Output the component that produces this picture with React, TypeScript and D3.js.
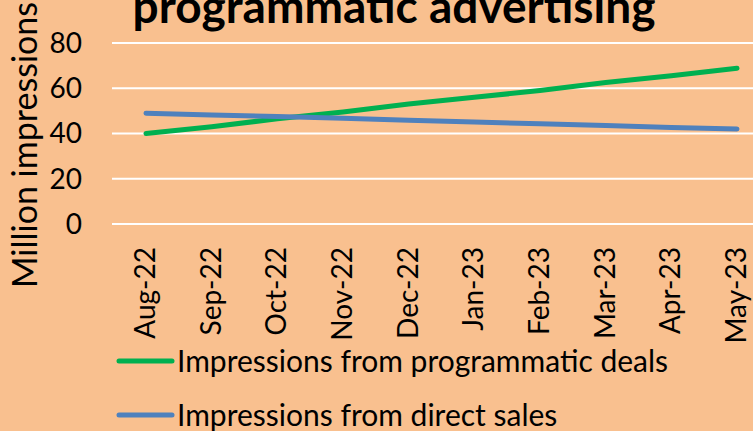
import React, { useEffect, useRef } from 'react';
import * as d3 from 'd3';

const months = ['Aug-22', 'Sep-22', 'Oct-22', 'Nov-22', 'Dec-22', 'Jan-23', 'Feb-23', 'Mar-23', 'Apr-23', 'May-23'];
const programmatic = [40, 43, 46.5, 49.5, 53, 56, 59, 62.5, 65.5, 68.8];
const directSales = [49, 48.2, 47.5, 46.7, 45.9, 45.1, 44.3, 43.5, 42.7, 42];
const yTicks = [0, 20, 40, 60, 80];
const seriesNames = ['Impressions from programmatic deals', 'Impressions from direct sales'];

const W = 753;
const H = 431;
const FONT = 'Lato, "Open Sans", sans-serif';

export default function App() {
  const svgRef = useRef<SVGSVGElement>(null);

  useEffect(() => {
    if (!svgRef.current) return;
    const svg = d3.select(svgRef.current);
    svg.selectAll('*').remove();

    svg.append('rect').attr('width', W).attr('height', H).attr('fill', '#F9C08F');

    const x = d3.scalePoint<string>().domain(months).range([146, 737]);
    const y = d3.scaleLinear().domain([0, 80]).range([224, 43]);

    // gridlines
    svg.append('g')
      .selectAll('line')
      .data(yTicks)
      .join('line')
      .attr('x1', 112)
      .attr('x2', W)
      .attr('y1', d => y(d))
      .attr('y2', d => y(d))
      .attr('stroke', '#fff')
      .attr('stroke-width', 2);

    // y tick labels
    svg.append('g')
      .style('font', `28px ${FONT}`)
      .attr('text-anchor', 'end')
      .selectAll('text')
      .data(yTicks)
      .join('text')
      .attr('x', 82)
      .attr('y', d => y(d))
      .attr('dy', '0.35em')
      .text(d => d);

    // x tick labels
    svg.append('g')
      .style('font', `28px ${FONT}`)
      .attr('text-anchor', 'end')
      .selectAll('text')
      .data(months)
      .join('text')
      .attr('transform', d => `translate(${x(d)},247) rotate(-90)`)
      .attr('dy', '0.32em')
      .text(d => d);

    // lines
    const line = d3.line<number>()
      .x((_, i) => x(months[i])!)
      .y(d => y(d));

    const series = [
      { values: programmatic, color: '#00B050' },
      { values: directSales, color: '#4F81BD' },
    ];

    svg.append('g')
      .selectAll('path')
      .data(series)
      .join('path')
      .attr('d', d => line(d.values))
      .attr('fill', 'none')
      .attr('stroke', d => d.color)
      .attr('stroke-width', 5)
      .attr('stroke-linecap', 'round');

    // legend
    const legend = svg.append('g')
      .selectAll('g')
      .data(series)
      .join('g')
      .attr('transform', (_, i) => `translate(0,${i === 0 ? 361 : 415})`);
    legend.append('line')
      .attr('x1', 119).attr('x2', 172)
      .attr('stroke', d => d.color)
      .attr('stroke-width', 5)
      .attr('stroke-linecap', 'round');
    legend.append('text')
      .attr('x', 177)
      .attr('dy', '0.35em')
      .style('font', `30px ${FONT}`)
      .text((_, i) => seriesNames[i]);

    // axis title
    svg.append('text')
      .attr('transform', 'translate(37,145) rotate(-90)')
      .attr('text-anchor', 'middle')
      .style('font', `34px ${FONT}`)
      .text('Million impressions');

    // chart title (top cut off)
    svg.append('text')
      .attr('x', 394)
      .attr('y', 23)
      .attr('text-anchor', 'middle')
      .style('font', `bold 46px ${FONT}`)
      .text('programmatic advertising');
  }, []);

  return (
    <svg ref={svgRef} width={W} height={H}
      style={{ position: 'absolute', left: 0, top: 0, display: 'block' }} />
  );
}
